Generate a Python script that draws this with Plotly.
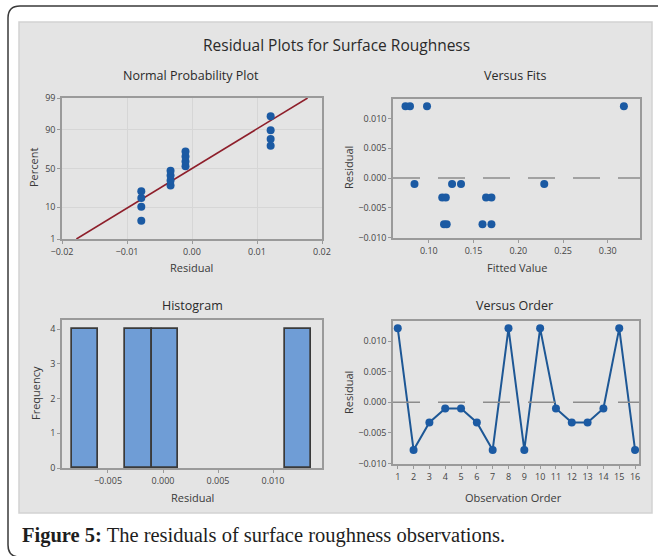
import plotly.graph_objects as go
from statistics import NormalDist, mean, stdev

# ---------------- data ----------------
observation_order = list(range(1, 17))
residuals = [0.0121, -0.0078, -0.0033, -0.0010, -0.0010, -0.0033, -0.0078, 0.0121,
             -0.0078, 0.0121, -0.0010, -0.0033, -0.0033, -0.0010, 0.0121, -0.0078]
fitted_values = [0.074, 0.117, 0.115, 0.084, 0.126, 0.119, 0.120, 0.079,
                 0.160, 0.098, 0.136, 0.164, 0.170, 0.229, 0.318, 0.170]
prob_ticks = [1, 10, 50, 90, 99]

W, H = 658, 556
nd = NormalDist()


def px(x):
    return x / W


def py(y):
    return 1 - y / H


# normal probability plot values (median ranks)
n = len(residuals)
sorted_res = sorted(residuals)
z_vals = [nd.inv_cdf((i + 1 - 0.3) / (n + 0.4)) for i in range(n)]
mu, sd = mean(residuals), stdev(residuals)
z_lo, z_hi = nd.inv_cdf(0.01), nd.inv_cdf(0.99)

BLUE = "#1b5aa3"
TICKC = "#454545"
FRAME = "#9a9a9a"
FONT = "Open Sans"
MS = 8

fig = go.Figure()

# Normal probability plot
fig.add_trace(go.Scatter(x=[mu + z_lo * sd, mu + z_hi * sd], y=[z_lo, z_hi], mode="lines",
                         line=dict(color="#8e1f2b", width=1.6), xaxis="x", yaxis="y",
                         showlegend=False, hoverinfo="skip"))
fig.add_trace(go.Scatter(x=sorted_res, y=z_vals, mode="markers",
                         marker=dict(color=BLUE, size=MS, symbol="circle"),
                         xaxis="x", yaxis="y", showlegend=False))

# Versus fits
fig.add_trace(go.Scatter(x=fitted_values, y=residuals, mode="markers",
                         marker=dict(color=BLUE, size=MS, symbol="circle"),
                         xaxis="x2", yaxis="y2", showlegend=False))

# Histogram
fig.add_trace(go.Histogram(x=residuals, xbins=dict(start=-0.0083, end=0.0140, size=0.00242),
                           marker=dict(color="#6f9dd6", line=dict(color="#3a3a3a", width=1.7)),
                           xaxis="x3", yaxis="y3", showlegend=False))

# Versus order
fig.add_trace(go.Scatter(x=observation_order, y=residuals, mode="lines+markers",
                         line=dict(color="#1d5795", width=2),
                         marker=dict(color=BLUE, size=MS, symbol="circle"),
                         xaxis="x4", yaxis="y4", showlegend=False))

# plot area domains (pixels)
areas = {
    "1": (62, 322, 98, 239),
    "2": (393, 640, 99, 238),
    "3": (62, 322, 320, 468),
    "4": (393, 639, 321, 464),
}


def dom(a):
    x0, x1, y0, y1 = a
    return [px(x0), px(x1)], [py(y1), py(y0)]


common = dict(showline=True, linecolor=FRAME, linewidth=1.5, mirror=True,
              ticks="outside", ticklen=3, tickcolor=FRAME, zeroline=False,
              tickfont=dict(family=FONT, size=9, color=TICKC), fixedrange=True)

d = {k: dom(v) for k, v in areas.items()}

fig.update_layout(
    xaxis=dict(domain=d["1"][0], anchor="y", range=[-0.02, 0.02], tickvals=[-0.02, -0.01, 0, 0.01, 0.02],
               tickformat=".2f", showgrid=True, gridcolor="#d6d6d6", gridwidth=1, **common),
    yaxis=dict(domain=d["1"][1], anchor="x", range=[z_lo, z_hi],
               tickvals=[nd.inv_cdf(p / 100) for p in prob_ticks],
               ticktext=[str(p) for p in prob_ticks], showgrid=True, gridcolor="#d6d6d6", **common),
    xaxis2=dict(domain=d["2"][0], anchor="y2", range=[0.06, 0.336], tickvals=[0.10, 0.15, 0.20, 0.25, 0.30],
                tickformat=".2f", showgrid=False, **common),
    yaxis2=dict(domain=d["2"][1], anchor="x2", range=[-0.0101, 0.0133],
                tickvals=[-0.010, -0.005, 0, 0.005, 0.010], tickformat=".3f", showgrid=False, **common),
    xaxis3=dict(domain=d["3"][0], anchor="y3", range=[-0.00918, 0.01445],
                tickvals=[-0.005, 0, 0.005, 0.010], tickformat=".3f", showgrid=False, **common),
    yaxis3=dict(domain=d["3"][1], anchor="x3", range=[0, 4.26], tickvals=[0, 1, 2, 3, 4],
                showgrid=False, **common),
    xaxis4=dict(domain=d["4"][0], anchor="y4", range=[0.7, 16.25], tickvals=observation_order,
                showgrid=False, **common),
    yaxis4=dict(domain=d["4"][1], anchor="x4", range=[-0.0101, 0.0133],
                tickvals=[-0.010, -0.005, 0, 0.005, 0.010], tickformat=".3f", showgrid=False, **common),
    width=W, height=H, autosize=False,
    margin=dict(l=0, r=0, t=0, b=0, autoexpand=False),
    paper_bgcolor="white", plot_bgcolor="white",
    bargap=0,
    showlegend=False,
)

# background shapes
r = 12
x0o, y0o, x1o, y1o = 8, 6, 680, 557
path = (f"M {px(x1o)},{py(y0o)} L {px(x0o + r)},{py(y0o)} Q {px(x0o)},{py(y0o)} {px(x0o)},{py(y0o + r)} "
        f"L {px(x0o)},{py(y1o - r)} Q {px(x0o)},{py(y1o)} {px(x0o + r)},{py(y1o)} L {px(x1o)},{py(y1o)}")
shapes = [
    dict(type="path", xref="paper", yref="paper", path=path, line=dict(color="#3a3a3a", width=1.5),
         fillcolor="white", layer="below"),
    dict(type="rect", xref="paper", yref="paper", x0=px(19), x1=px(652), y0=py(513), y1=py(22),
         fillcolor="#e4e4e4", line=dict(color="#d2d2d2", width=1.5), layer="below"),
]
for xa, ya in (("x2", "y2"), ("x4", "y4")):
    shapes.append(dict(type="line", xref=f"{xa} domain", yref=ya, x0=0, x1=1, y0=0, y1=0,
                       line=dict(color="#8c8c8c", width=1.5, dash="27px,18px")))
fig.update_layout(shapes=shapes)

# text
ann = []


def text(t, x, y, size, rot=0, color="#2a2a2a", family=FONT, xanchor="center"):
    ann.append(dict(text=t, x=px(x), y=py(y), xref="paper", yref="paper", showarrow=False,
                    xanchor=xanchor, yanchor="middle", textangle=rot,
                    font=dict(family=family, size=size, color=color)))


text("Residual Plots for Surface Roughness", 336, 45, 15.5)
text("Normal Probability Plot", 191, 75, 12.5)
text("Versus Fits", 515, 75, 12.5)
text("Histogram", 192, 305, 12.5)
text("Versus Order", 514, 305, 12.5)
text("Percent", 33, 168, 11, rot=-90, color="#3a3a3a")
text("Residual", 348, 168, 11, rot=-90, color="#3a3a3a")
text("Frequency", 35, 393, 11, rot=-90, color="#3a3a3a")
text("Residual", 348, 393, 11, rot=-90, color="#3a3a3a")
text("Residual", 191, 267, 11, color="#3a3a3a")
text("Fitted Value", 517, 267, 11, color="#3a3a3a")
text("Residual", 192, 497, 11, color="#3a3a3a")
text("Observation Order", 513, 497, 11, color="#3a3a3a")
text("<b>Figure 5:</b> The residuals of surface roughness observations.", 20, 535, 20.5,
     color="#1e1e1e", family="Liberation Serif", xanchor="left")
fig.update_layout(annotations=ann)

fig.write_html("out.html", config={"displayModeBar": False},
               post_script="document.body.style.margin='0px';document.body.style.overflow='hidden';")
